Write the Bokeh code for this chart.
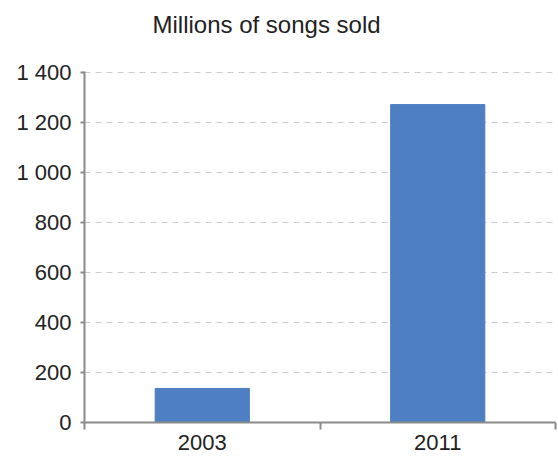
from bokeh.plotting import figure
from bokeh.models import Range1d, FixedTicker, ColumnDataSource, Title
from bokeh.embed import file_html
from bokeh.resources import INLINE

categories = ["2003", "2011"]
songs_sold = [136, 1270]
y_ticks = [0, 200, 400, 600, 800, 1000, 1200, 1400]
title_text = "Millions of songs sold"

FONT = "Liberation Sans"
AXIS_COLOR = "#8a8a8a"

x_pos = [i + 0.5 for i in range(len(categories))]
src = ColumnDataSource(dict(x=x_pos, top=songs_sold, cat=categories))

p = figure(width=558, height=462, output_backend="svg", toolbar_location=None,
           x_range=Range1d(0, len(categories)), y_range=Range1d(0, 1402),
           min_border_left=84, min_border_right=3, min_border_top=71, min_border_bottom=40)
p.title.text = ""

p.vbar(x="x", top="top", width=0.4, source=src, fill_color="#4e7fc2", line_color="#4e7fc2")

# spacer panel between frame and title, then the real title above it
p.add_layout(Title(text=" ", text_font=FONT, text_font_size="10px", standoff=20), "above")
p.add_layout(Title(text=title_text, align="left", offset=68, text_font=FONT,
                   text_font_size="24px", text_font_style="normal",
                   text_color="#222222", standoff=2), "above")

p.outline_line_color = None
p.xgrid.grid_line_color = None
p.ygrid.grid_line_color = "#cccccc"
p.ygrid.grid_line_dash = "6 5"
p.ygrid.grid_line_width = 1
p.ygrid.ticker = FixedTicker(ticks=y_ticks[1:])

ya = p.yaxis[0]
ya.ticker = FixedTicker(ticks=y_ticks)
ya.major_label_overrides = {t: f"{t:,}".replace(",", " ") for t in y_ticks}
ya.axis_line_color = AXIS_COLOR
ya.axis_line_width = 2
ya.major_tick_line_color = AXIS_COLOR
ya.major_tick_line_width = 2
ya.major_tick_out = 4
ya.major_tick_in = 0
ya.minor_tick_line_color = None
ya.major_label_text_font = FONT
ya.major_label_text_font_size = "22px"
ya.major_label_text_color = "#222222"
ya.major_label_standoff = 9

xa = p.xaxis[0]
xa.ticker = FixedTicker(ticks=x_pos, minor_ticks=list(range(len(categories) + 1)))
xa.major_label_overrides = {x: c for x, c in zip(x_pos, categories)}
xa.axis_line_color = AXIS_COLOR
xa.axis_line_width = 2
xa.major_tick_line_color = None
xa.major_tick_out = 0
xa.major_tick_in = 0
xa.minor_tick_line_color = AXIS_COLOR
xa.minor_tick_line_width = 2
xa.minor_tick_out = 7
xa.minor_tick_in = 0
xa.major_label_text_font = FONT
xa.major_label_text_font_size = "22px"
xa.major_label_text_color = "#222222"
xa.major_label_standoff = 5

open("out.html", "w").write(file_html(p, INLINE))
